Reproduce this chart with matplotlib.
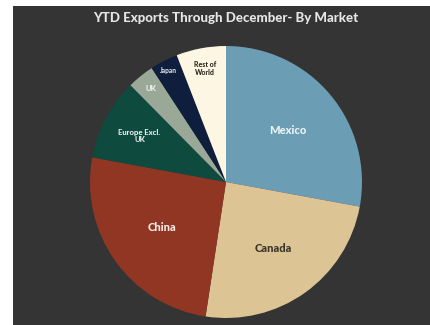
import matplotlib
matplotlib.use("Agg")
import numpy as np
from matplotlib import pyplot as plt
from matplotlib.patches import Rectangle

# share of exports by market (percent)
markets = ["Mexico", "Canada", "China", "Europe Excl.\nUK", "UK", "Japan", "Rest of\nWorld"]
shares = [27.9, 24.5, 25.5, 9.7, 3.2, 3.3, 5.9]
colors = ["#6b9db4", "#dcc495", "#923624", "#0e4a3e", "#9aa898", "#0f1e3c", "#fcf6e2"]
label_colors = ["#eef4f6", "#3a3328", "#f6ece8", "#e8eeec", "#f2f2f0", "#d8dce6", "#2e2a22"]
label_sizes = [8.0, 8.0, 8.0, 5.5, 5.5, 4.8, 5.0]
label_radius = [0.59, 0.6, 0.58, 0.72, 0.88, 0.92, 0.85]

W, H = 431, 325
fig = plt.figure(figsize=(W / 100, H / 100), dpi=100)
fig.patch.set_facecolor("white")

# dark panel behind the chart
fig.patches.append(Rectangle((13 / W, 0), 1 - 13 / W, (H - 6) / H,
                             transform=fig.transFigure, facecolor="#343434",
                             edgecolor="none", zorder=-5))

fig.text(226 / W, 1 - 18 / H, "YTD Exports Through December- By Market",
         ha="center", va="center", color="#e6e6e6", fontsize=9.5,
         fontweight="black", family="Lato")

cx, cy, r = 226, 182, 136
ax = fig.add_axes([(cx - r) / W, (H - cy - r) / H, 2 * r / W, 2 * r / H])
ax.set_zorder(2)
ax.set_facecolor("none")
wedges, _ = ax.pie(shares, colors=colors, startangle=90, counterclock=False,
                   wedgeprops=dict(linewidth=0))
ax.set_aspect("equal")
ax.set_xlim(-1, 1)
ax.set_ylim(-1, 1)
ax.axis("off")

for w, name, c, fs, rf in zip(wedges, markets, label_colors, label_sizes, label_radius):
    mid = np.deg2rad((w.theta1 + w.theta2) / 2)
    ax.text(rf * np.cos(mid), rf * np.sin(mid), name, ha="center", va="center",
            color=c, fontsize=fs, fontweight="black", family="Lato",
            linespacing=1.05)

fig.savefig("out.png", dpi=100, facecolor=fig.get_facecolor())
